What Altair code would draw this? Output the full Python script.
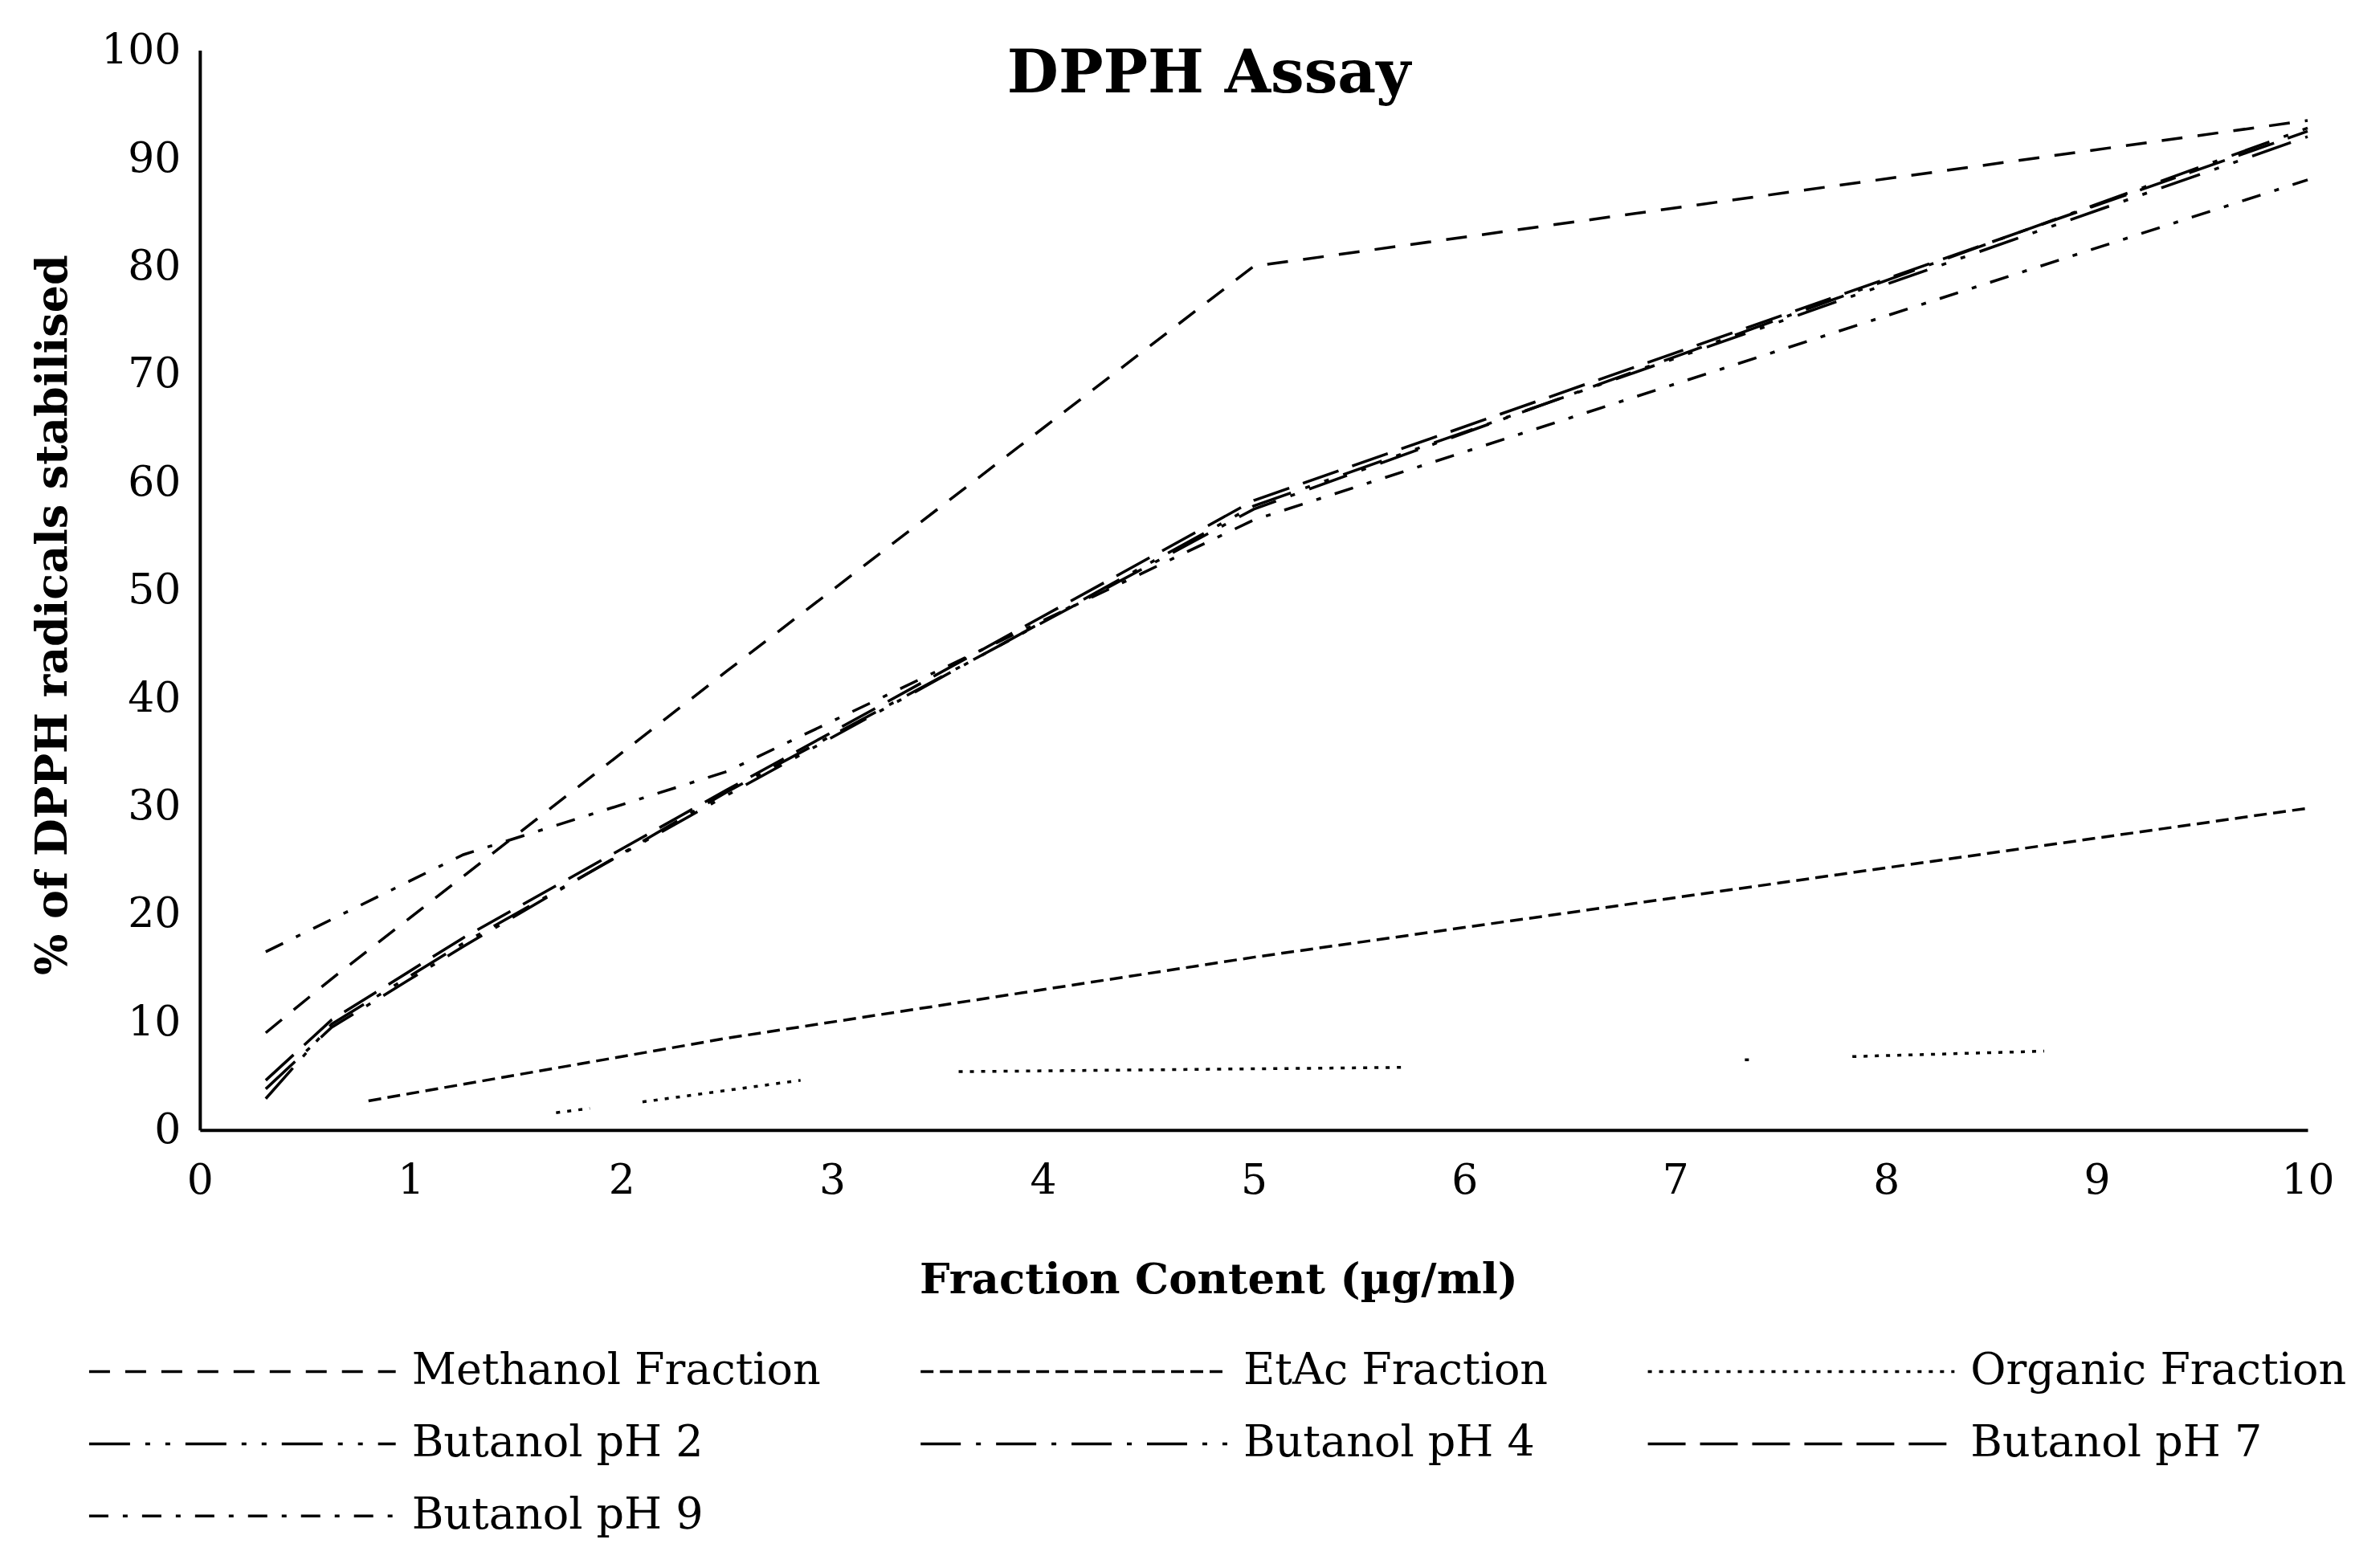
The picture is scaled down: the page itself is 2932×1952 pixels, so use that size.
import altair as alt
import pandas as pd

# ---- data ----
series_names = ["Methanol Fraction", "EtAc Fraction", "Organic Fraction",
                "Butanol pH 2", "Butanol pH 4", "Butanol pH 7", "Butanol pH 9"]

conc = [0.3125, 0.625, 1.25, 2.5, 5, 10]
methanol = [9.0, 14.0, 23.5, 42.5, 80.0, 93.5]
butanol_ph2 = [2.9, 9.8, 17.3, 31.0, 57.8, 92.0]
butanol_ph4 = [3.8, 9.5, 17.0, 31.3, 57.5, 92.8]
butanol_ph7 = [4.6, 10.2, 17.8, 31.5, 58.3, 92.5]
butanol_ph9 = [16.5, 19.5, 25.5, 33.2, 56.5, 88.0]

etac_x = [0.8, 2.5, 5, 10]
etac_y = [2.7, 8.5, 16.0, 29.8]

# organic fraction: only the visible stretches of the dotted line
organic_x = [1.69, 1.85, 2.1, 2.85, 3.6, 5.72, 7.33, 7.38, 7.84, 8.75]
organic_y = [1.6, 2.0, 2.6, 4.6, 5.4, 5.8, 6.5, 6.5, 6.8, 7.3]
organic_seg = [1, 1, 2, 2, 3, 3, 4, 4, 5, 5]

dash_styles = [[26, 19], [16, 8], [5, 9], [51, 19, 6, 19, 6, 19],
               [50, 19, 6, 19], [47, 18], [24, 18, 6, 18]]

rows = []
for name, ys in [("Methanol Fraction", methanol), ("Butanol pH 2", butanol_ph2),
                 ("Butanol pH 4", butanol_ph4), ("Butanol pH 7", butanol_ph7),
                 ("Butanol pH 9", butanol_ph9)]:
    for xv, yv in zip(conc, ys):
        rows.append({"series": name, "x": xv, "y": yv, "seg": name})
for xv, yv in zip(etac_x, etac_y):
    rows.append({"series": "EtAc Fraction", "x": xv, "y": yv, "seg": "EtAc"})
for xv, yv, s in zip(organic_x, organic_y, organic_seg):
    rows.append({"series": "Organic Fraction", "x": xv, "y": yv, "seg": f"Org{s}"})
df = pd.DataFrame(rows)

FONT = "DejaVu Serif"

chart = alt.Chart(df).mark_line(strokeWidth=3.5, color="black", strokeCap="butt").encode(
    x=alt.X("x:Q", scale=alt.Scale(domain=[0, 10], nice=False),
            axis=alt.Axis(values=list(range(0, 11)), title="Fraction Content (µg/ml)",
                          labelFlush=False, labelPadding=38, titlePadding=72,
                          titleX=1269, titleFontSize=53)),
    y=alt.Y("y:Q", scale=alt.Scale(domain=[0, 100], nice=False),
            axis=alt.Axis(values=list(range(0, 101, 10)), title="% of DPPH radicals stabilised",
                          labelPadding=24, titlePadding=32, titleY=703, titleFontSize=54)),
    strokeDash=alt.StrokeDash("series:N",
                              scale=alt.Scale(domain=series_names, range=dash_styles),
                              legend=alt.Legend(title=None, orient="none", legendX=-140, legendY=1616,
                                                direction="horizontal", columns=3,
                                                symbolType="stroke", symbolSize=382 * 382,
                                                symbolStrokeWidth=3.5, symbolStrokeColor="black",
                                                clipHeight=60,
                                                labelFont=FONT, labelFontSize=54, labelColor="black",
                                                labelOffset=18, labelLimit=1200,
                                                columnPadding=122, rowPadding=30)),
    detail="seg:N",
).properties(
    width=2626, height=1345,
    title=alt.Title("DPPH Assay", font=FONT, fontSize=74, fontWeight="bold", color="black",
                    anchor="middle", offset=-94, dx=-56),
    padding={"left": 31, "top": 28, "right": 2, "bottom": 5},
).configure_axis(
    domainColor="black", domainWidth=4, ticks=False, grid=False,
    labelFont=FONT, labelFontSize=52, labelColor="black",
    titleFont=FONT, titleFontSize=52, titleFontWeight="bold", titleColor="black",
).configure_view(stroke=None)

chart.save("out.html", embed_options={"renderer": "svg", "actions": False})
